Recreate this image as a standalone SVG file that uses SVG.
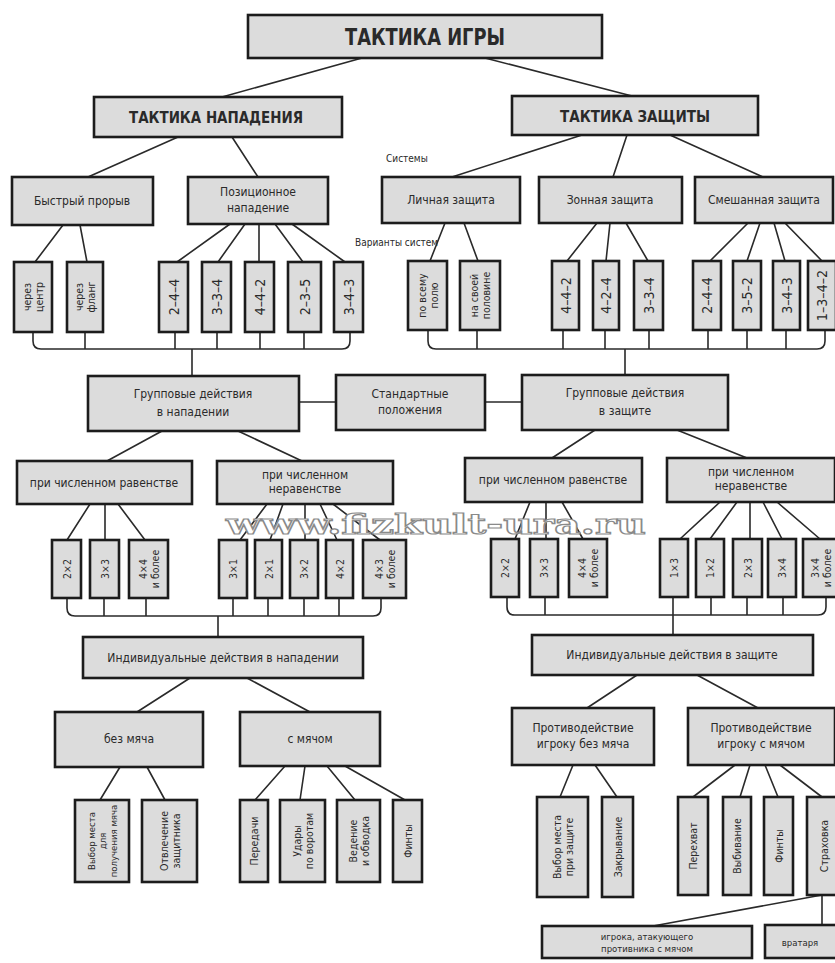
<svg xmlns="http://www.w3.org/2000/svg" width="835" height="963" viewBox="0 0 835 963">
<style>
.b{fill:#dcdcdc;stroke:#1c1c1c;stroke-width:2.6}
.c{fill:none;stroke:#2a2a2a;stroke-width:1.6}
text{font-family:"DejaVu Sans Condensed","DejaVu Sans",sans-serif;fill:#2a2a2a;text-anchor:middle;dominant-baseline:central}
.h1{font-size:23px;font-weight:bold}
.h2{font-size:16px;font-weight:bold}
.m{font-size:12px}
.s{font-size:10px;text-anchor:start}
.v{font-size:10.5px}
.n{font-size:14px}
.wm{font-family:"DejaVu Serif",serif;font-size:28px;font-weight:bold;fill:#fff;stroke:#8a8a8a;stroke-width:1.2;text-anchor:start}
</style>
<rect width="835" height="963" fill="#fff"/>

<g id="connectors" class="c">
<path d="M362,58 L222,97 M485,58 L632,96"/>
<path d="M178,137 L88,177 M232,137 L258,177"/>
<path d="M582,135 L452,177 M627,135 L613,177 M670,135 L763,177"/>
<path d="M63,225 L35,262 M80,225 L87,262"/>
<path d="M230,224 L177,262 M245,224 L218,262 M259,224 L259,262 M275,224 L303,262 M292,224 L345,262"/>
<path d="M445,223 L430,261 M464,223 L478,261"/>
<path d="M597,223 L567,261 M610,223 L606,261 M626,223 L648,261"/>
<path d="M748,223 L710,261 M760,223 L747,261 M774,223 L785,261 M785,223 L822,261"/>
<path d="M33,332 V341 Q33,349 41,349 H342 Q350,349 350,341 V332"/>
<path d="M85,332 V349 M175,332 V349 M217,332 V349 M260,332 V349 M304,332 V349 M192,349 V376"/>
<path d="M428,330 V341 Q428,349 436,349 H817 Q825,349 825,341 V330"/>
<path d="M477,330 V349 M563,330 V349 M605,330 V349 M649,330 V349 M708,330 V349 M747,330 V349 M786,330 V349 M625,349 V375"/>
<path d="M299,402 H336 M485,402 H522"/>
<path d="M162,431 L107,461 M238,431 L302,461"/>
<path d="M595,430 L552,458 M677,430 L747,458"/>
<path d="M90,504 L67,540 M105,504 L105,540 M118,504 L145,540"/>
<path d="M267,504 L240,540 M283,504 L270,540 M305,504 L305,540 M320,504 L337,540 M333,504 L380,540"/>
<path d="M530,502 L515,539 M546,502 L546,539 M562,502 L583,539"/>
<path d="M720,502 L680,539 M737,502 L710,539 M750,502 L750,539 M763,502 L782,539 M777,502 L820,539"/>
<path d="M67,598 V608 Q67,616 75,616 H373 Q381,616 381,608 V598"/>
<path d="M104,598 V616 M146,598 V616 M233,598 V616 M268,598 V616 M304,598 V616 M339,598 V616 M218,616 V637"/>
<path d="M507,597 V607 Q507,615 515,615 H818 Q826,615 826,607 V597"/>
<path d="M545,597 V615 M711,597 V615 M747,597 V615 M783,597 V615 M673,597 V635"/>
<path d="M190,678 L137,712 M247,678 L310,712"/>
<path d="M120,767 L100,800 M147,767 L165,800"/>
<path d="M285,766 L255,800 M305,766 L300,800 M327,766 L355,800 M345,766 L405,800"/>
<path d="M637,675 L587,708 M697,675 L758,708"/>
<path d="M573,765 L560,797 M595,765 L617,797"/>
<path d="M735,765 L693,797 M750,765 L740,797 M765,765 L778,797 M780,765 L822,797"/>
<path d="M822,895 V925 M822,895 L653,926"/>
</g>

<g id="n-root"><rect class="b" x="248" y="15" width="354" height="43"/><text class="h1" x="425" y="37" textLength="160" lengthAdjust="spacingAndGlyphs">ТАКТИКА ИГРЫ</text></g>
<g id="n-attack"><rect class="b" x="94" y="97" width="248" height="40"/><text class="h2" x="216" y="117" textLength="174" lengthAdjust="spacingAndGlyphs">ТАКТИКА НАПАДЕНИЯ</text></g>
<g id="n-defense"><rect class="b" x="512" y="96" width="246" height="39"/><text class="h2" x="635" y="116" textLength="150" lengthAdjust="spacingAndGlyphs">ТАКТИКА ЗАЩИТЫ</text></g>

<text class="s" x="386" y="158">Системы</text>
<text class="s" x="355" y="242">Варианты систем</text>

<g id="n-fast"><rect class="b" x="12" y="177" width="141" height="48"/><text class="m" x="82" y="201">Быстрый прорыв</text></g>
<g id="n-pos"><rect class="b" x="188" y="177" width="140" height="47"/><text class="m" x="258" y="200"><tspan x="258" dy="-8">Позиционное</tspan><tspan x="258" dy="16">нападение</tspan></text></g>
<g id="n-personal"><rect class="b" x="382" y="177" width="138" height="46"/><text class="m" x="451" y="200">Личная защита</text></g>
<g id="n-zone"><rect class="b" x="539" y="177" width="143" height="46"/><text class="m" x="610" y="200">Зонная защита</text></g>
<g id="n-mixed"><rect class="b" x="695" y="177" width="138" height="46"/><text class="m" x="764" y="200">Смешанная защита</text></g>

<g id="n-center"><rect class="b" x="14" y="262" width="38" height="70"/><text class="v" transform="translate(33,297) rotate(-90)"><tspan x="0" dy="-6">через</tspan><tspan x="0" dy="12">центр</tspan></text></g>
<g id="n-flank"><rect class="b" x="67" y="262" width="36" height="70"/><text class="v" transform="translate(85,297) rotate(-90)"><tspan x="0" dy="-6">через</tspan><tspan x="0" dy="12">фланг</tspan></text></g>
<g id="n-a244"><rect class="b" x="159" y="262" width="29" height="70"/><text class="n" transform="translate(173.5,297) rotate(-90)">2–4–4</text></g>
<g id="n-a334"><rect class="b" x="202" y="262" width="29" height="70"/><text class="n" transform="translate(216.5,297) rotate(-90)">3–3–4</text></g>
<g id="n-a442"><rect class="b" x="245" y="262" width="29" height="70"/><text class="n" transform="translate(259.5,297) rotate(-90)">4–4–2</text></g>
<g id="n-a235"><rect class="b" x="288" y="262" width="33" height="70"/><text class="n" transform="translate(304.5,297) rotate(-90)">2–3–5</text></g>
<g id="n-a343"><rect class="b" x="334" y="262" width="29" height="70"/><text class="n" transform="translate(348.5,297) rotate(-90)">3–4–3</text></g>

<g id="n-whole"><rect class="b" x="408" y="261" width="39" height="69"/><text class="v" transform="translate(427.5,295.5) rotate(-90)"><tspan x="0" dy="-6">по всему</tspan><tspan x="0" dy="12">полю</tspan></text></g>
<g id="n-half"><rect class="b" x="460" y="261" width="40" height="69"/><text class="v" transform="translate(480,295.5) rotate(-90)"><tspan x="0" dy="-6">на своей</tspan><tspan x="0" dy="12">половине</tspan></text></g>
<g id="n-z442"><rect class="b" x="552" y="261" width="27" height="69"/><text class="n" transform="translate(565.5,295.5) rotate(-90)">4–4–2</text></g>
<g id="n-z424"><rect class="b" x="593" y="261" width="26" height="69"/><text class="n" transform="translate(606,295.5) rotate(-90)">4–2–4</text></g>
<g id="n-z334"><rect class="b" x="634" y="261" width="29" height="69"/><text class="n" transform="translate(648.5,295.5) rotate(-90)">3–3–4</text></g>
<g id="n-m244"><rect class="b" x="693" y="261" width="28" height="69"/><text class="n" transform="translate(707,295.5) rotate(-90)">2–4–4</text></g>
<g id="n-m352"><rect class="b" x="733" y="261" width="28" height="69"/><text class="n" transform="translate(747,295.5) rotate(-90)">3–5–2</text></g>
<g id="n-m343"><rect class="b" x="773" y="261" width="27" height="69"/><text class="n" transform="translate(786.5,295.5) rotate(-90)">3–4–3</text></g>
<g id="n-m1342"><rect class="b" x="808" y="261" width="28" height="69"/><text class="n" transform="translate(822,295.5) rotate(-90)">1–3–4–2</text></g>

<g id="n-grpatt"><rect class="b" x="88" y="376" width="211" height="55"/><text class="m" x="193" y="403"><tspan x="193" dy="-9">Групповые действия</tspan><tspan x="193" dy="18">в нападении</tspan></text></g>
<g id="n-std"><rect class="b" x="336" y="375" width="149" height="55"/><text class="m" x="410" y="402"><tspan x="410" dy="-8">Стандартные</tspan><tspan x="410" dy="16">положения</tspan></text></g>
<g id="n-grpdef"><rect class="b" x="522" y="375" width="206" height="55"/><text class="m" x="625" y="402"><tspan x="625" dy="-9">Групповые действия</tspan><tspan x="625" dy="18">в защите</tspan></text></g>

<g id="n-eqL"><rect class="b" x="17" y="461" width="175" height="43"/><text class="m" x="104" y="483">при численном равенстве</text></g>
<g id="n-neqL"><rect class="b" x="217" y="461" width="176" height="43"/><text class="m" x="305" y="482"><tspan x="305" dy="-7">при численном</tspan><tspan x="305" dy="14">неравенстве</tspan></text></g>
<g id="n-eqR"><rect class="b" x="465" y="458" width="177" height="44"/><text class="m" x="553" y="480">при численном равенстве</text></g>
<g id="n-neqR"><rect class="b" x="667" y="458" width="168" height="44"/><text class="m" x="751" y="479"><tspan x="751" dy="-7">при численном</tspan><tspan x="751" dy="14">неравенстве</tspan></text></g>

<g id="n-L22"><rect class="b" x="52" y="540" width="29" height="58"/><text class="v" transform="translate(66.5,569) rotate(-90)">2×2</text></g>
<g id="n-L33"><rect class="b" x="90" y="540" width="29" height="58"/><text class="v" transform="translate(104.5,569) rotate(-90)">3×3</text></g>
<g id="n-L44"><rect class="b" x="129" y="540" width="39" height="58"/><text class="v" transform="translate(148.5,569) rotate(-90)"><tspan x="0" dy="-6">4×4</tspan><tspan x="0" dy="12">и более</tspan></text></g>
<g id="n-L31"><rect class="b" x="219" y="540" width="28" height="58"/><text class="v" transform="translate(233,569) rotate(-90)">3×1</text></g>
<g id="n-L21"><rect class="b" x="255" y="540" width="27" height="58"/><text class="v" transform="translate(268.5,569) rotate(-90)">2×1</text></g>
<g id="n-L32"><rect class="b" x="290" y="540" width="28" height="58"/><text class="v" transform="translate(304,569) rotate(-90)">3×2</text></g>
<g id="n-L42"><rect class="b" x="326" y="540" width="27" height="58"/><text class="v" transform="translate(339.5,569) rotate(-90)">4×2</text></g>
<g id="n-L43"><rect class="b" x="363" y="540" width="43" height="58"/><text class="v" transform="translate(384.5,569) rotate(-90)"><tspan x="0" dy="-6">4×3</tspan><tspan x="0" dy="12">и более</tspan></text></g>

<g id="n-R22"><rect class="b" x="491" y="539" width="28" height="58"/><text class="v" transform="translate(505,568) rotate(-90)">2×2</text></g>
<g id="n-R33"><rect class="b" x="530" y="539" width="28" height="58"/><text class="v" transform="translate(544,568) rotate(-90)">3×3</text></g>
<g id="n-R44"><rect class="b" x="569" y="539" width="38" height="58"/><text class="v" transform="translate(588,568) rotate(-90)"><tspan x="0" dy="-6">4×4</tspan><tspan x="0" dy="12">и более</tspan></text></g>
<g id="n-R13"><rect class="b" x="660" y="539" width="28" height="58"/><text class="v" transform="translate(674,568) rotate(-90)">1×3</text></g>
<g id="n-R12"><rect class="b" x="696" y="539" width="28" height="58"/><text class="v" transform="translate(710,568) rotate(-90)">1×2</text></g>
<g id="n-R23"><rect class="b" x="733" y="539" width="29" height="58"/><text class="v" transform="translate(747.5,568) rotate(-90)">2×3</text></g>
<g id="n-R34"><rect class="b" x="768" y="539" width="28" height="58"/><text class="v" transform="translate(782,568) rotate(-90)">3×4</text></g>
<g id="n-R34m"><rect class="b" x="803" y="539" width="37" height="58"/><text class="v" transform="translate(821,568) rotate(-90)"><tspan x="0" dy="-6">3×4</tspan><tspan x="0" dy="12">и более</tspan></text></g>

<g id="n-indatt"><rect class="b" x="83" y="637" width="280" height="41"/><text class="m" x="223" y="658">Индивидуальные действия в нападении</text></g>
<g id="n-inddef"><rect class="b" x="532" y="635" width="281" height="40"/><text class="m" x="672" y="655">Индивидуальные действия в защите</text></g>

<g id="n-noball"><rect class="b" x="55" y="712" width="148" height="55"/><text class="m" x="129" y="739">без мяча</text></g>
<g id="n-ball"><rect class="b" x="240" y="712" width="140" height="54"/><text class="m" x="310" y="739">с мячом</text></g>
<g id="n-oppno"><rect class="b" x="512" y="708" width="142" height="57"/><text class="m" x="583" y="736"><tspan x="583" dy="-8">Противодействие</tspan><tspan x="583" dy="16">игроку   без мяча</tspan></text></g>
<g id="n-oppball"><rect class="b" x="688" y="708" width="147" height="57"/><text class="m" x="761" y="736"><tspan x="761" dy="-8">Противодействие</tspan><tspan x="761" dy="16">игроку с мячом</tspan></text></g>

<g id="n-place"><rect class="b" x="75" y="800" width="54" height="82"/><text class="v" style="font-size:9.5px" transform="translate(102,841) rotate(-90)"><tspan x="0" dy="-11">Выбор места</tspan><tspan x="0" dy="11">для</tspan><tspan x="0" dy="11">получения мяча</tspan></text></g>
<g id="n-distract"><rect class="b" x="142" y="800" width="55" height="82"/><text class="v" transform="translate(169.5,841) rotate(-90)"><tspan x="0" dy="-6">Отвлечение</tspan><tspan x="0" dy="12">защитника</tspan></text></g>
<g id="n-pass"><rect class="b" x="240" y="800" width="28" height="82"/><text class="v" transform="translate(254,841) rotate(-90)">Передачи</text></g>
<g id="n-shots"><rect class="b" x="280" y="800" width="45" height="82"/><text class="v" transform="translate(302.5,841) rotate(-90)"><tspan x="0" dy="-6">Удары</tspan><tspan x="0" dy="12">по воротам</tspan></text></g>
<g id="n-dribble"><rect class="b" x="337" y="800" width="43" height="82"/><text class="v" transform="translate(358.5,841) rotate(-90)"><tspan x="0" dy="-6">Ведение</tspan><tspan x="0" dy="12">и обводка</tspan></text></g>
<g id="n-feintA"><rect class="b" x="393" y="800" width="29" height="82"/><text class="v" transform="translate(407.5,841) rotate(-90)">Финты</text></g>

<g id="n-placeD"><rect class="b" x="537" y="797" width="51" height="100"/><text class="v" transform="translate(562.5,847) rotate(-90)"><tspan x="0" dy="-6">Выбор места</tspan><tspan x="0" dy="12">при защите</tspan></text></g>
<g id="n-cover"><rect class="b" x="602" y="797" width="31" height="100"/><text class="v" transform="translate(617.5,847) rotate(-90)">Закрывание</text></g>
<g id="n-intercept"><rect class="b" x="678" y="797" width="30" height="98"/><text class="v" transform="translate(693,846) rotate(-90)">Перехват</text></g>
<g id="n-knock"><rect class="b" x="723" y="797" width="28" height="98"/><text class="v" transform="translate(737,846) rotate(-90)">Выбивание</text></g>
<g id="n-feintD"><rect class="b" x="764" y="797" width="29" height="98"/><text class="v" transform="translate(778.5,846) rotate(-90)">Финты</text></g>
<g id="n-insure"><rect class="b" x="807" y="797" width="33" height="98"/><text class="v" transform="translate(823.5,846) rotate(-90)">Страховка</text></g>

<g id="n-player"><rect class="b" x="542" y="926" width="210" height="32"/><text class="s" x="647" y="942" style="text-anchor:middle;font-size:9.5px"><tspan x="647" dy="-6">игрока, атакующего</tspan><tspan x="647" dy="12">противника с мячом</tspan></text></g>
<g id="n-keeper"><rect class="b" x="765" y="925" width="72" height="33"/><text class="s" x="800" y="942" style="text-anchor:middle;font-size:9.5px">вратаря</text></g>

<text class="wm" x="226" y="524" textLength="420" lengthAdjust="spacingAndGlyphs">www.fizkult-ura.ru</text>
</svg>
